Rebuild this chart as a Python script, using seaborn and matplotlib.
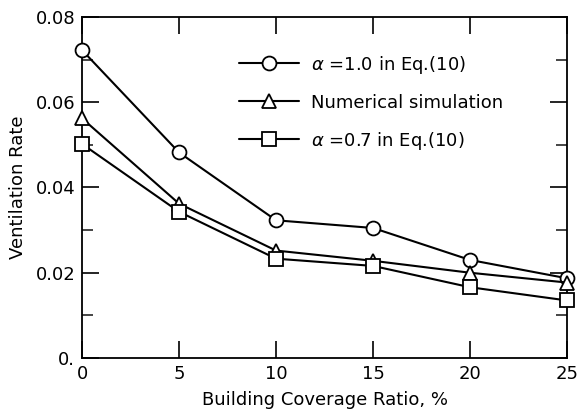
import matplotlib
matplotlib.use("Agg")
import matplotlib.pyplot as plt
import seaborn as sns
import pandas as pd
from matplotlib.ticker import MultipleLocator

coverage = [0, 5, 10, 15, 20, 25]
alpha10 = [0.0722, 0.0482, 0.0323, 0.0305, 0.0230, 0.0187]
numerical = [0.0562, 0.0362, 0.0252, 0.0228, 0.0200, 0.0177]
alpha07 = [0.0502, 0.0343, 0.0233, 0.0216, 0.0166, 0.0135]
labels = [r"$\alpha$ =1.0 in Eq.(10)", "Numerical simulation", r"$\alpha$ =0.7 in Eq.(10)"]
yticks = [0.0, 0.02, 0.04, 0.06, 0.08]
yticklabels = ["0.", "0.02", "0.04", "0.06", "0.08"]
xticks = [0, 5, 10, 15, 20, 25]

rows = []
for lab, vals in zip(labels, [alpha10, numerical, alpha07]):
    for x, y in zip(coverage, vals):
        rows.append({"x": x, "y": y, "series": lab})
df = pd.DataFrame(rows)

sns.set_style("ticks")
plt.rcParams['font.family'] = ['DejaVu Sans']
plt.rcParams['mathtext.fontset'] = 'dejavusans'
plt.rcParams['text.color'] = 'black'
plt.rcParams['axes.labelcolor'] = 'black'

fig = plt.figure(figsize=(5.78, 4.12), dpi=100)
ax = fig.add_axes([0.142, 0.131, 0.839, 0.828])

sns.lineplot(data=df, x="x", y="y", hue="series", style="series",
             palette=["black"] * 3, markers={labels[0]: "o", labels[1]: "^", labels[2]: "s"},
             dashes=False, markersize=10, markerfacecolor="white", markeredgecolor="black",
             markeredgewidth=1.3, linewidth=1.5, ax=ax, hue_order=labels, style_order=labels,
             clip_on=False, zorder=3)

ax.set_xlim(0, 25)
ax.set_ylim(0, 0.08)
ax.set_xticks(xticks)
ax.set_xticklabels([str(v) for v in xticks], fontsize=13)
ax.set_yticks(yticks)
ax.set_yticklabels(yticklabels, fontsize=13)
ax.yaxis.set_minor_locator(MultipleLocator(0.01))
ax.tick_params(axis="both", which="major", direction="in", length=12, width=1.2,
               top=True, right=True, colors="black", labelcolor="black")
ax.tick_params(axis="x", which="major", pad=5)
ax.tick_params(axis="y", which="major", pad=5)
ax.tick_params(axis="both", which="minor", direction="in", length=8, width=1.2,
               right=True, left=True)
ax.tick_params(axis="x", which="minor", bottom=False, top=False)
for s in ax.spines.values():
    s.set_linewidth(1.3)
    s.set_color("black")

ax.set_xlabel("Building Coverage Ratio, %", fontsize=13, labelpad=6)
ax.set_ylabel("Ventilation Rate", fontsize=13, labelpad=6)

leg = ax.legend(loc="upper left", bbox_to_anchor=(0.29, 0.94), frameon=False,
                fontsize=13, handlelength=3.3, labelspacing=1.0, handletextpad=0.7,
                markerscale=1.0)
for t in leg.get_texts():
    t.set_color("black")

fig.savefig("out.png", dpi=100)
